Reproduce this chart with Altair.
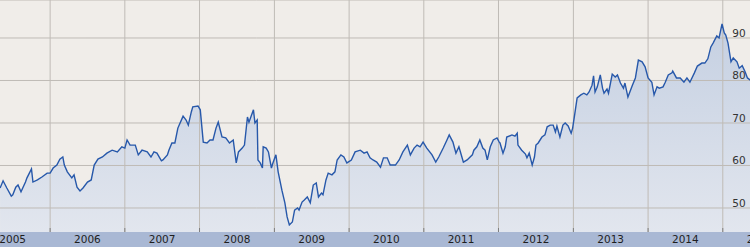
import altair as alt
import pandas as pd

# Decimal-year time stamps and index values
T = [2005.33, 2005.37, 2005.42, 2005.48, 2005.50, 2005.54, 2005.57, 2005.61, 2005.67, 2005.69,
     2005.75, 2005.77, 2005.83, 2005.89, 2005.96, 2006.00, 2006.04, 2006.09, 2006.13, 2006.17,
     2006.19, 2006.23, 2006.29, 2006.32, 2006.36, 2006.40, 2006.44, 2006.50, 2006.55, 2006.59,
     2006.64, 2006.70, 2006.76, 2006.83, 2006.90, 2006.96, 2007.00, 2007.03, 2007.07, 2007.14,
     2007.18, 2007.23, 2007.30, 2007.35, 2007.39, 2007.43, 2007.49, 2007.51, 2007.57, 2007.59,
     2007.63, 2007.67, 2007.71, 2007.77, 2007.78, 2007.82, 2007.85, 2007.89, 2007.91, 2007.98,
     2008.01, 2008.05, 2008.10, 2008.14, 2008.18, 2008.22, 2008.25, 2008.30, 2008.35, 2008.40,
     2008.45, 2008.49, 2008.52, 2008.57, 2008.60, 2008.64, 2008.66, 2008.72, 2008.74, 2008.77,
     2008.78, 2008.81, 2008.84, 2008.85, 2008.89, 2008.92, 2008.96, 2008.98, 2009.02, 2009.05,
     2009.10, 2009.14, 2009.17, 2009.20, 2009.24, 2009.27, 2009.31, 2009.33, 2009.37, 2009.40,
     2009.44, 2009.48, 2009.52, 2009.56, 2009.59, 2009.63, 2009.65, 2009.69, 2009.72, 2009.77,
     2009.81, 2009.84, 2009.89, 2009.93, 2009.97, 2010.03, 2010.08, 2010.15, 2010.20, 2010.24,
     2010.28, 2010.32, 2010.37, 2010.42, 2010.46, 2010.51, 2010.55, 2010.62, 2010.67, 2010.72,
     2010.78, 2010.82, 2010.87, 2010.91, 2010.95, 2010.99, 2011.04, 2011.11, 2011.16, 2011.20,
     2011.26, 2011.31, 2011.34, 2011.39, 2011.43, 2011.47, 2011.53, 2011.58, 2011.65, 2011.67,
     2011.71, 2011.75, 2011.79, 2011.82, 2011.85, 2011.89, 2011.93, 2011.98, 2012.01, 2012.02,
     2012.06, 2012.09, 2012.11, 2012.18, 2012.22, 2012.25, 2012.26, 2012.31, 2012.36, 2012.38,
     2012.41, 2012.45, 2012.48, 2012.50, 2012.53, 2012.58, 2012.62, 2012.65, 2012.69, 2012.73,
     2012.76, 2012.78, 2012.82, 2012.86, 2012.89, 2012.93, 2012.97, 2012.99, 2013.02, 2013.05,
     2013.10, 2013.14, 2013.18, 2013.21, 2013.25, 2013.27, 2013.29, 2013.32, 2013.36, 2013.39,
     2013.41, 2013.45, 2013.47, 2013.52, 2013.56, 2013.59, 2013.63, 2013.67, 2013.69, 2013.73,
     2013.79, 2013.83, 2013.87, 2013.92, 2013.96, 2014.00, 2014.05, 2014.08, 2014.12, 2014.15,
     2014.20, 2014.23, 2014.27, 2014.32, 2014.33, 2014.38, 2014.43, 2014.48, 2014.52, 2014.56,
     2014.62, 2014.66, 2014.72, 2014.76, 2014.80, 2014.84, 2014.87, 2014.92, 2014.95, 2014.99,
     2015.02, 2015.04, 2015.07, 2015.11, 2015.14, 2015.19, 2015.22, 2015.26, 2015.30, 2015.33,
     2015.37]

VALUES = [54.7, 56.4, 54.7, 52.8, 53.1, 54.9, 55.4, 53.8, 56.1, 57.1,
          59.2, 56.1, 56.6, 57.3, 58.2, 58.2, 59.4, 60.1, 61.5, 62.0,
          60.1, 58.5, 57.1, 57.8, 54.9, 54.0, 54.7, 56.1, 56.6, 60.1,
          61.5, 62.0, 62.9, 63.6, 63.2, 64.4, 64.1, 66.0, 64.8, 64.8,
          62.5, 63.6, 63.2, 62.0, 63.2, 62.9, 61.1, 61.3, 62.5, 63.6,
          65.3, 65.3, 68.8, 71.2, 71.6, 70.7, 69.5, 72.6, 73.8, 74.0,
          73.1, 65.5, 65.3, 66.0, 66.0, 68.8, 70.2, 66.7, 66.5, 65.3,
          66.0, 60.6, 63.2, 64.1, 64.8, 71.4, 70.2, 73.1, 70.0, 70.7,
          61.3, 60.6, 59.4, 64.4, 64.1, 63.2, 59.4, 60.6, 62.5, 58.5,
          54.2, 51.2, 47.9, 46.0, 46.7, 49.5, 50.0, 49.5, 51.4, 51.9,
          52.6, 51.2, 55.4, 55.9, 52.6, 53.5, 53.1, 56.6, 58.2, 57.8,
          58.5, 61.3, 62.5, 62.0, 60.6, 61.3, 63.2, 63.6, 62.9, 63.2,
          61.8, 61.3, 60.8, 59.6, 61.8, 61.8, 60.1, 60.1, 61.3, 63.2,
          64.8, 62.5, 64.1, 64.8, 64.4, 65.5, 64.1, 62.5, 60.8, 62.0,
          64.1, 66.0, 67.2, 65.5, 62.9, 64.4, 60.8, 61.3, 62.5, 63.6,
          64.4, 66.0, 64.1, 63.6, 61.3, 64.4, 66.0, 66.5, 65.5, 65.3,
          62.9, 64.4, 66.7, 67.2, 66.9, 67.6, 64.8, 63.6, 62.7, 61.8,
          62.9, 60.1, 62.0, 64.8, 65.3, 66.7, 67.2, 69.1, 69.5, 69.5,
          67.9, 69.3, 66.7, 69.5, 70.0, 69.3, 67.6, 68.8, 72.3, 75.9,
          76.6, 77.0, 76.6, 77.3, 78.9, 81.1, 77.3, 78.5, 81.3, 78.2,
          77.0, 78.0, 77.0, 81.5, 80.8, 81.3, 79.4, 78.2, 79.4, 76.1,
          78.9, 80.6, 84.8, 84.4, 83.2, 80.6, 79.6, 76.6, 78.5, 78.2,
          78.5, 79.6, 81.3, 81.8, 82.2, 80.6, 80.6, 79.6, 80.6, 79.6,
          81.8, 83.4, 84.1, 84.1, 85.1, 87.9, 88.8, 90.5, 90.0, 93.3,
          91.2, 90.7, 88.8, 84.4, 85.3, 84.4, 82.9, 83.5, 82.0, 80.6,
          80.1]

YEAR_LABELS = [2005, 2006, 2007, 2008, 2009, 2010, 2011, 2012, 2013, 2014, 2015]
GRID_YEARS = [2006, 2007, 2008, 2009, 2010, 2011, 2012, 2013, 2014, 2015]
Y_TICKS = [50, 60, 70, 80, 90]
Y_MIN, Y_MAX = 44.35, 98.94


def dec_to_date(t):
    year = int(t)
    start = pd.Timestamp(year, 1, 1)
    end = pd.Timestamp(year + 1, 1, 1)
    return (start + (end - start) * (t - year)).strftime("%Y-%m-%dT%H:%M:%S")


df = pd.DataFrame({"date": [dec_to_date(t) for t in T], "value": VALUES})
grid_x = pd.DataFrame({"date": [f"{y}-01-01T00:00:00" for y in GRID_YEARS]})
grid_y = pd.DataFrame({"v": Y_TICKS + [Y_MAX]})
ylab = pd.DataFrame({"v": Y_TICKS, "label": [str(v) for v in Y_TICKS]})
xlab = pd.DataFrame({"date": [f"{y}-07-02T00:00:00" for y in YEAR_LABELS],
                     "label": [str(y) for y in YEAR_LABELS]})

x_scale = alt.Scale(domain=[alt.DateTime(year=2005, month=5, date=1),
                            alt.DateTime(year=2015, month=5, date=14)])
y_scale = alt.Scale(domain=[Y_MIN, Y_MAX], zero=False, nice=False)

X = alt.X("date:T", scale=x_scale, axis=None)
Y = alt.Y("value:Q", scale=y_scale, axis=None)

grid_color = "#bfbbb6"

strip = alt.Chart(pd.DataFrame({"a": [0]})).mark_rect(color="#a9b8d4").encode(
    x=alt.value(0), x2=alt.value(750), y=alt.value(232), y2=alt.value(247)
)

area = alt.Chart(df).mark_area(
    color=alt.Gradient(
        gradient="linear",
        stops=[alt.GradientStop(color="#c5d0e2", offset=0),
               alt.GradientStop(color="#e2e6ee", offset=1)],
        x1=1, x2=1, y1=0, y2=1,
    )
).encode(x=X, y=Y, y2=alt.datum(Y_MIN))

vrules = alt.Chart(grid_x).mark_rule(color=grid_color, strokeWidth=1).encode(x=X)
hrules = alt.Chart(grid_y).mark_rule(color=grid_color, strokeWidth=1).encode(
    y=alt.Y("v:Q", scale=y_scale, axis=None)
)
ticks = alt.Chart(grid_x).mark_rule(color="#7f7f7f", strokeWidth=1).encode(
    x=X, y=alt.value(228), y2=alt.value(232)
)

line = alt.Chart(df).mark_line(color="#2758aa", strokeWidth=1.4).encode(x=X, y=Y)

ylabels = alt.Chart(ylab).mark_text(
    font="DejaVu Sans", fontSize=10.5, color="#333333", align="center", baseline="middle", dy=-4
).encode(x=alt.value(739), y=alt.Y("v:Q", scale=y_scale, axis=None), text="label:N")

xlabels = alt.Chart(xlab).mark_text(
    font="DejaVu Sans", fontSize=10.5, color="#1e1e1e", align="center", baseline="middle"
).encode(x=X, y=alt.value(240), text="label:N")

chart = alt.layer(strip, area, vrules, hrules, ticks, line, ylabels, xlabels).properties(
    width=750, height=232,
    padding={"left": 0, "top": 0, "right": 0, "bottom": 15},
    autosize=alt.AutoSizeParams(type="none"),
    background="#a9b8d4",
).configure_view(fill="#f0ede9", strokeWidth=0)

chart.save("out.html", embed_options={"renderer": "svg", "actions": False})
